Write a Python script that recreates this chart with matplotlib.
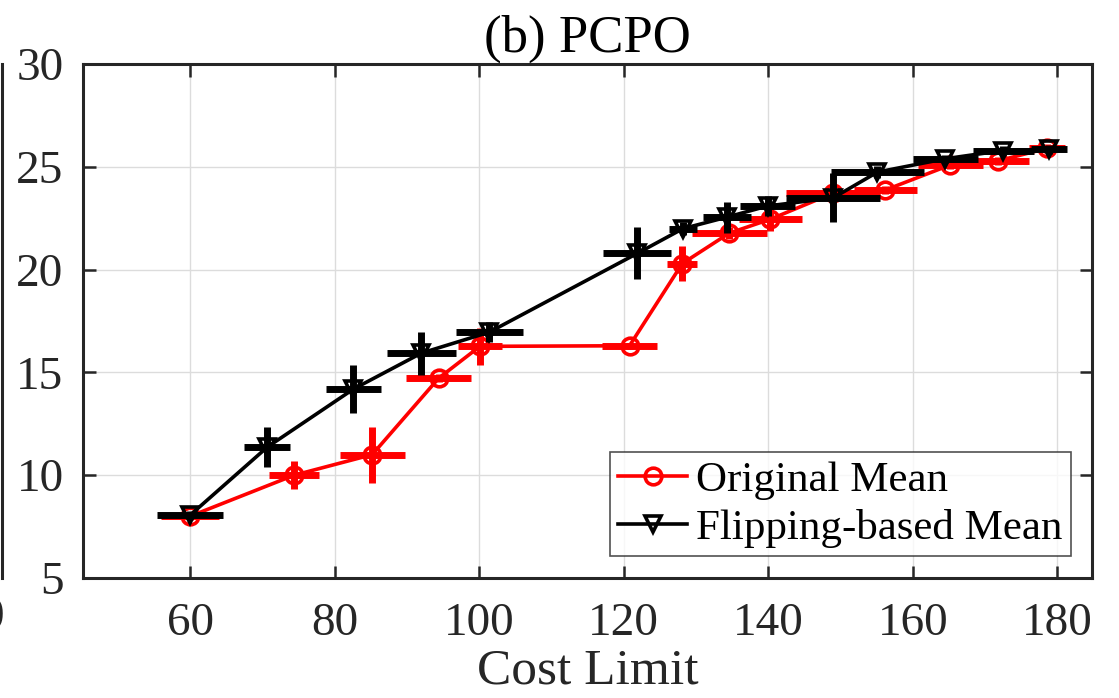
import matplotlib
matplotlib.use("Agg")
import matplotlib.pyplot as plt
from matplotlib.lines import Line2D

plt.rcParams['font.family'] = ['Liberation Serif', 'DejaVu Serif']
plt.rcParams['mathtext.fontset'] = 'stix'

# Original Mean
orig_x = [60, 74.4, 85.2, 94.4, 100.1, 120.8, 128.1, 134.6, 140.3, 149.0, 156.2, 165.2, 171.8, 178.5]
orig_y = [8.0, 10.0, 11.0, 14.72, 16.27, 16.30, 20.3, 21.78, 22.46, 23.73, 23.88, 25.1, 25.3, 25.9]
orig_xerr = [4.0, 3.5, 4.5, 4.5, 3.0, 3.8, 2.1, 5.2, 4.4, 6.5, 4.4, 4.5, 4.2, 2.5]
orig_yerr = [0.2, 0.68, 1.36, 0.2, 0.9, 0.15, 0.85, 0.3, 0.6, 0.3, 0.2, 0.2, 0.2, 0.2]

# Flipping-based Mean
flip_x = [60, 70.7, 82.6, 92.0, 101.4, 121.9, 128.2, 134.3, 139.9, 149.0, 155.1, 164.5, 172.5, 178.8]
flip_y = [8.05, 11.37, 14.19, 15.94, 16.96, 20.8, 22.0, 22.56, 23.1, 23.5, 24.75, 25.4, 25.8, 25.85]
flip_xerr = [4.5, 3.2, 3.8, 4.8, 4.6, 4.7, 2.0, 3.3, 3.8, 6.5, 6.4, 4.5, 4.2, 2.5]
flip_yerr = [0.2, 0.97, 1.17, 1.05, 0.5, 1.26, 0.3, 0.75, 0.5, 1.2, 0.3, 0.2, 0.2, 0.2]

xticks = [60, 80, 100, 120, 140, 160, 180]
yticks = [5, 10, 15, 20, 25, 30]

fig = plt.figure(figsize=(11.19, 6.98), dpi=100)
ax = fig.add_axes([0.0742, 0.172, 0.9018, 0.736])

ax.errorbar(orig_x, orig_y, xerr=orig_xerr, yerr=orig_yerr, fmt='none',
            ecolor='red', elinewidth=5, capsize=0, zorder=3)
ax.plot(orig_x, orig_y, '-o', color='red', lw=2.6, ms=12, mfc='none', mew=2.6,
        label='Original Mean', zorder=4)
ax.errorbar(flip_x, flip_y, xerr=flip_xerr, yerr=flip_yerr, fmt='none',
            ecolor='black', elinewidth=5, capsize=0, zorder=5)
ax.plot(flip_x, flip_y, '-v', color='black', lw=2.6, ms=12, mfc='none', mew=2.6,
        label='Flipping-based Mean', zorder=6)

ax.set_xlim(45.2, 184.8)
ax.set_ylim(5, 30)
ax.set_xticks(xticks)
ax.set_yticks(yticks)
ax.grid(True, color='#dcdcdc', lw=1.0)
ax.set_axisbelow(True)
ax.tick_params(direction='in', length=9, width=1.8, top=True, right=True,
               labelsize=34, colors='#262626')
ax.tick_params(axis='x', pad=18)
ax.tick_params(axis='y', pad=14)
for s in ax.spines.values():
    s.set_linewidth(2.2)
    s.set_color('#262626')

ax.set_xlabel('Cost Limit', fontsize=37, color='#262626', labelpad=2)
ax.set_title('(b) PCPO', fontsize=38, color='black', pad=9)

leg = ax.legend(loc='lower right', fontsize=31, frameon=True, fancybox=False,
                edgecolor='#262626', handlelength=1.6, handletextpad=0.2,
                borderpad=0.2, labelspacing=0.2, borderaxespad=0.5)
leg.get_frame().set_linewidth(1.2)

# remnants of neighbouring panel at left edge
fig.add_artist(Line2D([0.002, 0.002], [0.172, 0.908], color='#262626', lw=2.2))
fig.text(-0.007, 0.115, '0', fontsize=34, color='#262626', ha='center', va='center')

fig.savefig('out.png', dpi=100)
